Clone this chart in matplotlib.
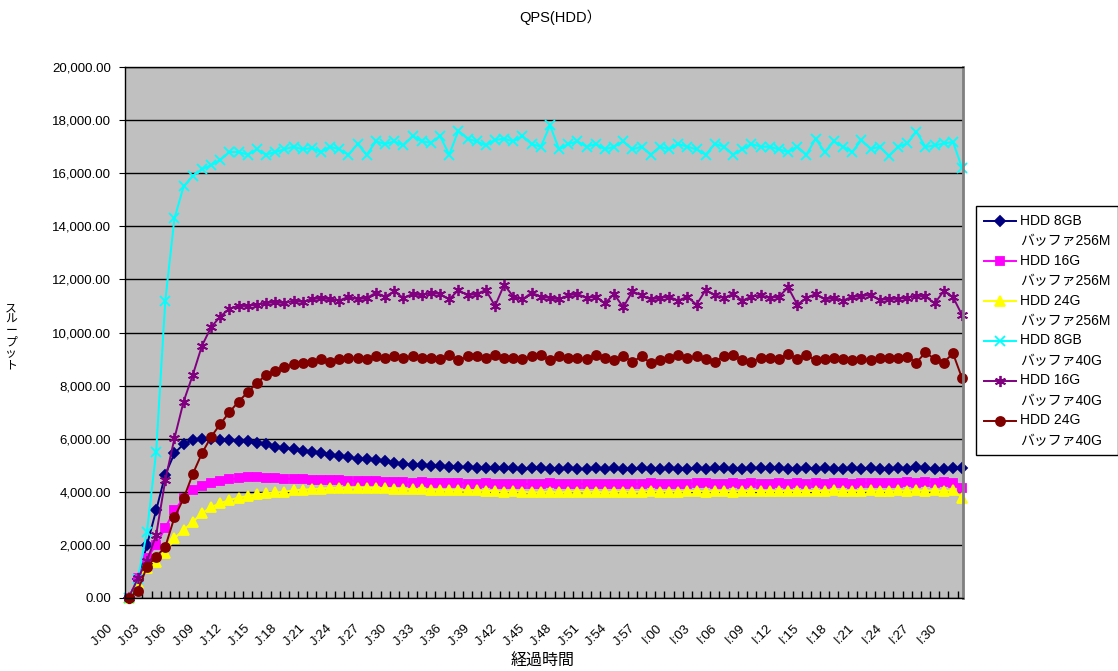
import numpy as np
import matplotlib
matplotlib.use('Agg')
import matplotlib.pyplot as plt
import matplotlib.transforms as mtransforms
from matplotlib.legend_handler import HandlerLine2D

plt.rcParams['font.family'] = ['Liberation Sans', 'Noto Sans CJK JP', 'DejaVu Sans']

# 経過時間ごとのQPS（1分毎）
navy = [
    0, 700, 2000, 3300, 4650, 5450, 5800, 5950, 6000, 6000,
    5960, 5950, 5930, 5900, 5850, 5800, 5700, 5650, 5600, 5550,
    5500, 5450, 5400, 5350, 5300, 5250, 5220, 5200, 5150, 5100,
    5050, 5020, 5000, 4980, 4960, 4950, 4930, 4920, 4910, 4900,
    4900, 4880, 4890, 4870, 4880, 4900, 4860, 4870, 4880, 4850,
    4870, 4880, 4860, 4900, 4870, 4850, 4880, 4860, 4870, 4890,
    4860, 4850, 4880, 4870, 4890, 4880, 4860, 4870, 4880, 4890,
    4900, 4880, 4870, 4860, 4880, 4870, 4890, 4860, 4870, 4880,
    4870, 4900, 4860, 4850, 4880, 4870, 4930, 4880, 4860, 4870,
    4880, 4890]
pink = [
    0, 740, 1500, 2000, 2650, 3300, 3750, 4070, 4200, 4350,
    4420, 4470, 4510, 4540, 4550, 4530, 4520, 4500, 4480, 4470,
    4460, 4450, 4440, 4450, 4420, 4410, 4400, 4420, 4380, 4370,
    4360, 4350, 4380, 4340, 4330, 4320, 4350, 4310, 4300, 4320,
    4300, 4310, 4290, 4300, 4280, 4300, 4320, 4290, 4300, 4280,
    4310, 4300, 4290, 4310, 4300, 4280, 4300, 4320, 4300, 4290,
    4310, 4300, 4320, 4330, 4300, 4310, 4320, 4300, 4330, 4310,
    4300, 4320, 4310, 4330, 4300, 4320, 4310, 4330, 4320, 4300,
    4330, 4320, 4350, 4340, 4330, 4360, 4340, 4380, 4350, 4360,
    4350, 4150]
yellow = [
    0, 550, 1120, 1370, 1680, 2250, 2560, 2870, 3190, 3420,
    3570, 3690, 3780, 3840, 3900, 3950, 3980, 4000, 4050, 4080,
    4100, 4120, 4150, 4150, 4150, 4160, 4150, 4140, 4130, 4120,
    4100, 4100, 4090, 4080, 4070, 4060, 4060, 4050, 4050, 4040,
    4030, 4000, 4020, 4000, 3980, 3990, 4000, 3980, 4000, 4010,
    3990, 4000, 3980, 4000, 4010, 3990, 4000, 4020, 4000, 4010,
    4000, 4020, 4030, 4010, 4020, 4030, 4010, 4020, 4040, 4020,
    4030, 4020, 4040, 4030, 4020, 4040, 4030, 4050, 4030, 4040,
    4030, 4050, 4040, 4030, 4050, 4040, 4060, 4040, 4050, 4040,
    4050, 3780]
cyan = [
    0, 700, 2500, 5500, 11200, 14300, 15500, 15900, 16150, 16300,
    16500, 16800, 16800, 16700, 16900, 16700, 16800, 16900, 17000, 16900,
    16950, 16800, 17000, 16900, 16700, 17100, 16700, 17200, 17100, 17200,
    17050, 17400, 17200, 17150, 17400, 16700, 17600, 17300, 17200, 17050,
    17250, 17300, 17200, 17400, 17100, 17000, 17800, 16900, 17100, 17200,
    17000, 17100, 16900, 17000, 17200, 16900, 17000, 16700, 17000, 16900,
    17100, 17000, 16900, 16700, 17100, 17000, 16700, 16900, 17100, 17000,
    17000, 16900, 16800, 17000, 16700, 17300, 16800, 17200, 17000, 16800,
    17250, 16920, 16990, 16660, 16990, 17120, 17570, 16990, 17050, 17120,
    17180, 16200]
purple = [
    0, 740, 1400, 2370, 4440, 6015, 7400, 8400, 9500, 10200,
    10600, 10900, 11000, 11000, 11050, 11100, 11150, 11100, 11200, 11150,
    11250, 11300, 11250, 11200, 11350, 11250, 11300, 11500, 11350, 11550,
    11300, 11450, 11400, 11500, 11450, 11250, 11600, 11400, 11450, 11600,
    11000, 11800, 11350, 11250, 11500, 11350, 11300, 11250, 11400, 11450,
    11300, 11350, 11100, 11450, 10950, 11550, 11400, 11250, 11300, 11350,
    11200, 11350, 11050, 11600, 11400, 11300, 11450, 11200, 11350, 11400,
    11300, 11350, 11700, 11050, 11300, 11450, 11250, 11300, 11200, 11350,
    11360, 11430, 11230, 11260, 11270, 11300, 11390, 11360, 11100, 11560,
    11340, 10650]
darkred = [
    0, 280, 1180, 1550, 1930, 3040, 3750, 4670, 5450, 6070,
    6550, 7000, 7400, 7750, 8100, 8400, 8550, 8700, 8800, 8850,
    8900, 9000, 8900, 9000, 9050, 9050, 9000, 9100, 9050, 9100,
    9050, 9100, 9050, 9050, 9000, 9150, 8950, 9100, 9100, 9050,
    9150, 9050, 9050, 9000, 9100, 9150, 8950, 9100, 9050, 9050,
    9000, 9150, 9050, 8950, 9100, 8900, 9100, 8850, 8950, 9050,
    9150, 9050, 9100, 9000, 8900, 9100, 9150, 8950, 8900, 9050,
    9050, 9000, 9200, 9000, 9150, 8950, 9000, 9050, 9000, 8950,
    9000, 8960, 9030, 9030, 9030, 9080, 8870, 9250, 9000, 8870,
    9220, 8270]

tick_labels = ['J:00', 'J:03', 'J:06', 'J:09', 'J:12', 'J:15', 'J:18', 'J:21',
               'J:24', 'J:27', 'J:30', 'J:33', 'J:36', 'J:39', 'J:42', 'J:45',
               'J:48', 'J:51', 'J:54', 'J:57', 'I:00', 'I:03', 'I:06', 'I:09',
               'I:12', 'I:15', 'I:18', 'I:21', 'I:24', 'I:27', 'I:30']

series = [
    ('HDD 8GB\nバッファ256M', navy, '#000080', 'D', 5),
    ('HDD 16G\nバッファ256M', pink, '#FF00FF', 's', 6),
    ('HDD 24G\nバッファ256M', yellow, '#FFFF00', '^', 6.5),
    ('HDD 8GB\nバッファ40G', cyan, '#00FFFF', 'x', 7),
    ('HDD 16G\nバッファ40G', purple, '#800080', (6, 2, 0), 8),
    ('HDD 24G\nバッファ40G', darkred, '#800000', 'o', 6.5),
]


# 凡例の記号を1行目にそろえる
class UpperLineHandler(HandlerLine2D):
    def create_artists(self, legend, orig_handle, xdescent, ydescent,
                       width, height, fontsize, trans):
        arts = super().create_artists(legend, orig_handle, xdescent, ydescent,
                                      width, height, fontsize, trans)
        for a in arts:
            a.set_ydata(np.asarray(a.get_ydata(), dtype=float) + 0.75 * fontsize)
        return arts


fig = plt.figure(figsize=(11.18, 6.71), dpi=100)
ax = fig.add_axes([0.1118, 0.1088, 0.7496, 0.7913])
ax.set_facecolor('#C0C0C0')

x = np.arange(len(navy))
for name, vals, col, mk, ms in series:
    ax.plot(x, vals, color=col, marker=mk, markersize=ms, linewidth=1.4,
            markeredgewidth=1.3, label=name, clip_on=False)

ax.set_xlim(-0.4, 91.1)
ax.set_ylim(0, 20000)
ax.set_yticks(np.arange(0, 20001, 2000))
ax.set_yticklabels(['{:,.2f}'.format(v) for v in np.arange(0, 20001, 2000)], fontsize=9.5)
ax.yaxis.grid(True, color='black', linewidth=1)
ax.set_axisbelow(True)
ax.tick_params(axis='y', length=4, direction='out', pad=6)

ax.set_xticks(np.arange(0, 91, 3))
ax.set_xticklabels(tick_labels, rotation=45, ha='right', rotation_mode='anchor', fontsize=9.5)
ax.tick_params(axis='x', which='major', length=0, pad=8)
ax.set_xticks(np.arange(0.5, 91, 1), minor=True)
ax.tick_params(axis='x', which='minor', length=5, direction='in', width=1)
shift = mtransforms.ScaledTranslation(-0.22, -0.13, fig.dpi_scale_trans)
for lab in ax.get_xticklabels():
    lab.set_transform(lab.get_transform() + shift)

for s in ['left', 'bottom', 'top']:
    ax.spines[s].set_color('black')
    ax.spines[s].set_linewidth(1)
ax.spines['right'].set_color('#808080')
ax.spines['right'].set_linewidth(2)

fig.text(0.501, 0.975, 'QPS(HDD）', ha='center', va='center', fontsize=10.5)
fig.text(0.485, 0.014, '経過時間', ha='center', va='center', fontsize=11.5)
fig.text(0.010, 0.498, 'ス\nル\nー\nプ\nッ\nト', ha='center', va='center',
         fontsize=8.5, linespacing=0.95)

leg = fig.legend(loc='upper left', bbox_to_anchor=(0.873, 0.693), fontsize=10,
                 frameon=True, fancybox=False, edgecolor='black', framealpha=1,
                 handlelength=2.3, handletextpad=0.3, labelspacing=0.4,
                 borderpad=0.55, borderaxespad=0,
                 handler_map={matplotlib.lines.Line2D: UpperLineHandler()})
leg.get_frame().set_linewidth(1)
for t in leg.get_texts():
    t.set_linespacing(1.58)

fig.savefig('out.png', dpi=100)
